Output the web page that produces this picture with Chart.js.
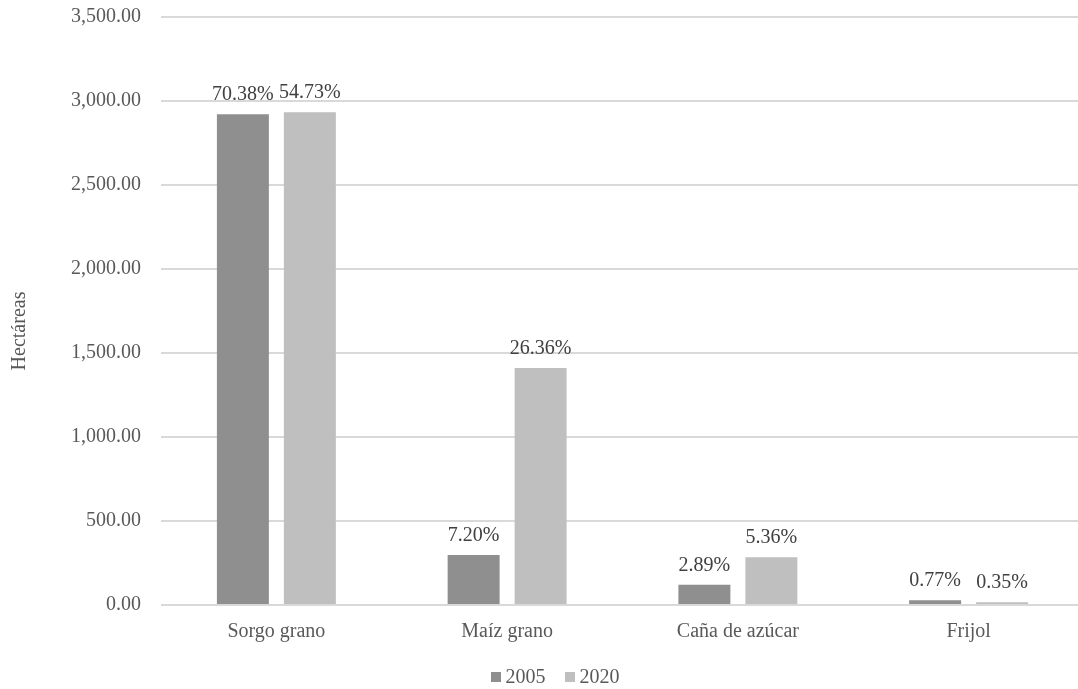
<!DOCTYPE html>
<html>
<head>
<meta charset="utf-8">
<script src="https://cdn.jsdelivr.net/npm/chart.js@4.4.1/dist/chart.umd.min.js"></script>
<style>
  html, body { margin: 0; padding: 0; background: #ffffff; overflow: hidden; }
  #wrap { width: 1078px; height: 689px; position: relative; overflow: hidden; }
</style>
</head>
<body>
<div id="wrap"><canvas id="c" width="1084" height="689"></canvas></div>
<script>
// Cultivos y superficie sembrada (hectáreas) por año
const categories = ['Sorgo grano', 'Maíz grano', 'Caña de azúcar', 'Frijol'];
const years = ['2005', '2020'];
const area2005 = [2921, 298, 120, 28];
const area2020 = [2933, 1410, 284, 16];
const share2005 = ['70.38%', '7.20%', '2.89%', '0.77%'];
const share2020 = ['54.73%', '26.36%', '5.36%', '0.35%'];
const yTicks = [0, 500, 1000, 1500, 2000, 2500, 3000, 3500];
const yTitle = 'Hectáreas';

const FONT = "'Liberation Serif', 'Times New Roman', serif";
const TEXT = '#595959';
const SIZE = 20;

// Porcentajes sobre cada barra, título del eje Y y leyenda inferior
const decorations = {
  id: 'decorations',
  afterDatasetsDraw(chart) {
    const ctx = chart.ctx;
    const shares = [share2005, share2020];
    ctx.save();
    ctx.font = SIZE + 'px ' + FONT;
    ctx.fillStyle = '#404040';
    ctx.textAlign = 'center';
    ctx.textBaseline = 'alphabetic';
    chart.data.datasets.forEach((ds, di) => {
      chart.getDatasetMeta(di).data.forEach((bar, i) => {
        ctx.fillText(shares[di][i], bar.x, bar.y - 14);
      });
    });
    ctx.restore();
  },
  afterDraw(chart) {
    const ctx = chart.ctx;
    ctx.save();
    ctx.font = SIZE + 'px ' + FONT;
    ctx.fillStyle = TEXT;

    // título vertical del eje Y
    ctx.save();
    ctx.translate(20, 331);
    ctx.rotate(-Math.PI / 2);
    ctx.textAlign = 'center';
    ctx.textBaseline = 'middle';
    ctx.fillText(yTitle, 0, 0);
    ctx.restore();

    // leyenda
    const box = 10, gapText = 5, gapItem = 19;
    const items = chart.data.datasets.map(ds => ({
      text: ds.label, color: ds.backgroundColor, w: ctx.measureText(ds.label).width
    }));
    const total = items.reduce((s, it) => s + box + gapText + it.w, 0) + gapItem * (items.length - 1);
    let x = 555 - total / 2;
    const cy = 677;
    ctx.textAlign = 'left';
    ctx.textBaseline = 'middle';
    items.forEach(it => {
      ctx.fillStyle = it.color;
      ctx.fillRect(Math.round(x), cy - box / 2, box, box);
      x += box + gapText;
      ctx.fillStyle = TEXT;
      ctx.fillText(it.text, x, cy + 1);
      x += it.w + gapItem;
    });
    ctx.restore();
  }
};

new Chart(document.getElementById('c'), {
  type: 'bar',
  data: {
    labels: categories,
    datasets: [
      { label: years[0], data: area2005, backgroundColor: '#8f8f8f' },
      { label: years[1], data: area2020, backgroundColor: '#bfbfbf' }
    ]
  },
  options: {
    responsive: false,
    animation: false,
    devicePixelRatio: 1,
    layout: { padding: { top: 17, right: 0, bottom: 0, left: 0 } },
    datasets: { bar: { categoryPercentage: 0.5806, barPercentage: 0.776 } },
    scales: {
      x: {
        grid: { display: false },
        border: { display: false },
        ticks: { color: TEXT, font: { family: FONT, size: SIZE }, padding: 7 },
        afterFit(scale) {
          scale.height = 84;
          scale.paddingLeft = 0;
          scale.paddingRight = 0;
        }
      },
      y: {
        min: 0,
        max: 3500,
        afterBuildTicks(scale) { scale.ticks = yTicks.map(v => ({ value: v })); },
        grid: { color: '#d9d9d9', lineWidth: 2, drawTicks: false },
        border: { display: false },
        ticks: {
          color: TEXT,
          font: { family: FONT, size: SIZE },
          padding: 20,
          callback: v => v.toLocaleString('en-US', { minimumFractionDigits: 2, maximumFractionDigits: 2 })
        },
        afterFit(scale) {
          scale.width = 161;
          scale.paddingTop = 0;
          scale.paddingBottom = 0;
        }
      }
    },
    plugins: {
      legend: { display: false },
      tooltip: { enabled: false }
    }
  },
  plugins: [decorations]
});
</script>
</body>
</html>
